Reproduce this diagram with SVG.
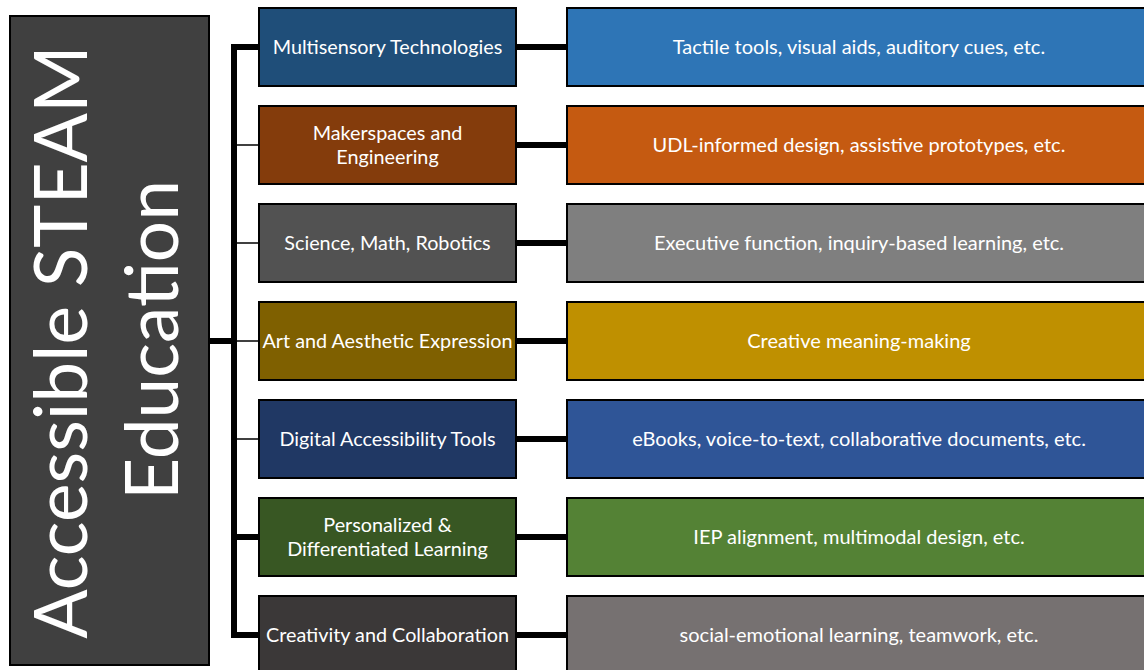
<svg xmlns="http://www.w3.org/2000/svg" width="1144" height="670" viewBox="0 0 1144 670">
<style>
  .box { stroke: #000; stroke-width: 2; }
  .t { font-family: Lato, "Liberation Sans", sans-serif; fill: #fff; text-anchor: middle; dominant-baseline: central; }
  .mid { font-size: 19.8px; }
  .rt { font-size: 20px; }
  .title { font-family: Lato, "Liberation Sans", sans-serif; fill: #fff; text-anchor: middle; font-size: 73px; }
  .thick { stroke: #000; stroke-width: 6; fill: none; }
  .thin { stroke: #000; stroke-width: 1.5; fill: none; }
</style>
<rect width="1144" height="670" fill="#fff"/>
<g id="connectors">
  <path class="thick" d="M259 47 H234 V635 H259"/>
  <line class="thick" x1="209" y1="341" x2="234" y2="341"/>
  <line class="thin" x1="234" y1="145" x2="259" y2="145"/>
  <line class="thin" x1="234" y1="243" x2="259" y2="243"/>
  <line class="thin" x1="234" y1="341" x2="259" y2="341"/>
  <line class="thin" x1="234" y1="439" x2="259" y2="439"/>
  <line class="thick" x1="234" y1="537" x2="259" y2="537"/>
  <line class="thick" x1="516" y1="47" x2="567" y2="47"/>
  <line class="thick" x1="516" y1="145" x2="567" y2="145"/>
  <line class="thick" x1="516" y1="243" x2="567" y2="243"/>
  <line class="thick" x1="516" y1="341" x2="567" y2="341"/>
  <line class="thick" x1="516" y1="439" x2="567" y2="439"/>
  <line class="thick" x1="516" y1="537" x2="567" y2="537"/>
  <line class="thick" x1="516" y1="635" x2="567" y2="635"/>
</g>
<g id="root">
  <rect class="box" x="10" y="16" width="199" height="649" fill="#404040"/>
  <text class="title" transform="translate(87,342) rotate(-90)">Accessible STEAM</text>
  <text class="title" transform="translate(178,340) rotate(-90)">Education</text>
</g>
<g id="n1">
  <rect class="box" x="259" y="8" width="257" height="78" fill="#1F4E79"/>
  <text class="t mid" x="387.5" y="46">Multisensory Technologies</text>
</g>
<g id="d1">
  <rect class="box" x="567" y="8" width="600" height="78" fill="#2E75B6"/>
  <text class="t rt" x="859" y="46">Tactile tools, visual aids, auditory cues, etc.</text>
</g>
<g id="n2">
  <rect class="box" x="259" y="106" width="257" height="78" fill="#843C0C"/>
  <text class="t mid" x="387.5" y="132">Makerspaces and</text>
  <text class="t mid" x="387.5" y="156">Engineering</text>
</g>
<g id="d2">
  <rect class="box" x="567" y="106" width="600" height="78" fill="#C55A11"/>
  <text class="t rt" x="859" y="144">UDL-informed design, assistive prototypes, etc.</text>
</g>
<g id="n3">
  <rect class="box" x="259" y="204" width="257" height="78" fill="#525252"/>
  <text class="t mid" x="387.5" y="242">Science, Math, Robotics</text>
</g>
<g id="d3">
  <rect class="box" x="567" y="204" width="600" height="78" fill="#7F7F7F"/>
  <text class="t rt" x="859" y="242">Executive function, inquiry-based learning, etc.</text>
</g>
<g id="n4">
  <rect class="box" x="259" y="302" width="257" height="78" fill="#7F6000"/>
  <text class="t mid" x="387.5" y="340">Art and Aesthetic Expression</text>
</g>
<g id="d4">
  <rect class="box" x="567" y="302" width="600" height="78" fill="#BF9000"/>
  <text class="t rt" x="859" y="340">Creative meaning-making</text>
</g>
<g id="n5">
  <rect class="box" x="259" y="400" width="257" height="78" fill="#203864"/>
  <text class="t mid" x="387.5" y="438">Digital Accessibility Tools</text>
</g>
<g id="d5">
  <rect class="box" x="567" y="400" width="600" height="78" fill="#2F5597"/>
  <text class="t rt" x="859" y="438">eBooks, voice-to-text, collaborative documents, etc.</text>
</g>
<g id="n6">
  <rect class="box" x="259" y="498" width="257" height="78" fill="#385723"/>
  <text class="t mid" x="387.5" y="524">Personalized &amp;</text>
  <text class="t mid" x="387.5" y="548">Differentiated Learning</text>
</g>
<g id="d6">
  <rect class="box" x="567" y="498" width="600" height="78" fill="#548235"/>
  <text class="t rt" x="859" y="536">IEP alignment, multimodal design, etc.</text>
</g>
<g id="n7">
  <rect class="box" x="259" y="596" width="257" height="78" fill="#3B3838"/>
  <text class="t mid" x="387.5" y="634">Creativity and Collaboration</text>
</g>
<g id="d7">
  <rect class="box" x="567" y="596" width="600" height="78" fill="#767171"/>
  <text class="t rt" x="859" y="634">social-emotional learning, teamwork, etc.</text>
</g>
</svg>
